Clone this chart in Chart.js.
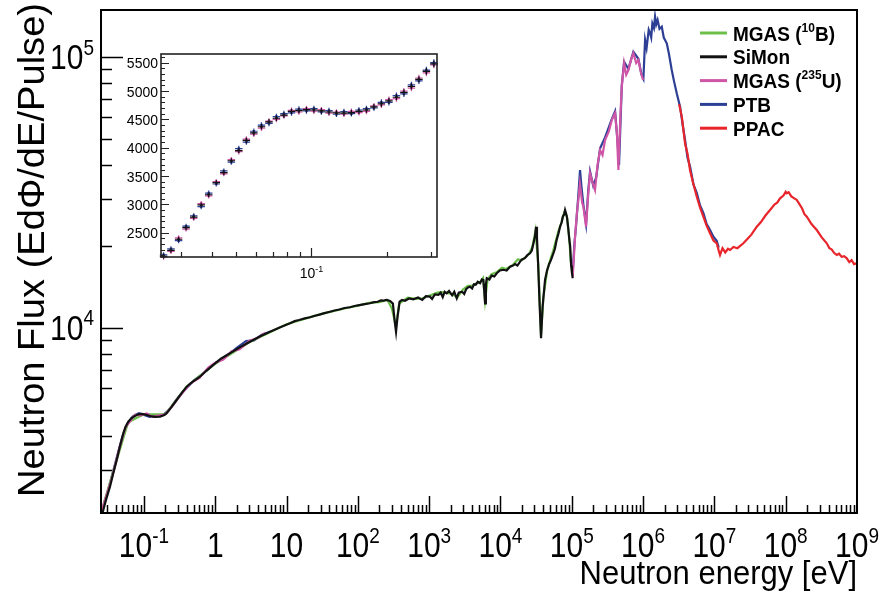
<!DOCTYPE html>
<html>
<head>
<meta charset="utf-8">
<script src="https://cdn.jsdelivr.net/npm/chart.js@4.4.0/dist/chart.umd.min.js"></script>
<style>
  html, body { margin: 0; padding: 0; background: #fff; }
  #wrap { position: relative; width: 883px; height: 592px; }
  #main { position: absolute; left: 0; top: 0; }
  #inset { position: absolute; left: 110px; top: 44px; }
</style>
</head>
<body>
<div id="wrap">
  <canvas id="main" width="883" height="592"></canvas>
  <canvas id="inset" width="340" height="250"></canvas>
</div>
<script>
// ---- data ----
const seriesNames = ['MGAS (¹⁰B)', 'SiMon', 'MGAS (²³⁵U)', 'PTB', 'PPAC'];
const xTitle = 'Neutron energy [eV]';
const yTitle = 'Neutron Flux (EdΦ/dE/Pulse)';

const mgasBE = [0.025, 0.04, 0.06, 0.1, 0.2, 0.4, 1, 3, 10, 30, 70, 100, 150, 200, 260, 300, 343, 380, 500, 650, 800, 1000, 1300, 1500, 2000, 2500, 3000, 3500, 4000, 5200, 5700, 6081, 6600, 7500, 9000, 10500, 12000, 15000, 17500, 20000, 25000, 28000, 31000, 34000, 37000, 40000, 45000, 50000, 55000, 65000, 72000, 78000, 85000, 92000, 97000];
const mgasBFlux = [2085, 3150, 4490, 4800, 4810, 6100, 7380, 8850, 10320, 11250, 11850, 12100, 12400, 12450, 12700, 11800, 10100, 12300, 12950, 12800, 12850, 13150, 13500, 13550, 13400, 13000, 13900, 14300, 14350, 14800, 15300, 12600, 15100, 15800, 16100, 16700, 16500, 17100, 17900, 17800, 18700, 19900, 22800, 17000, 9400, 13000, 16200, 17900, 19300, 22800, 24600, 26600, 26000, 21600, 17500];

const simonE = [0.025, 0.0264, 0.0295, 0.0334, 0.037, 0.0415, 0.046, 0.0514, 0.0555, 0.0604, 0.067, 0.075, 0.083, 0.0931, 0.105, 0.1216, 0.14, 0.168, 0.19, 0.2085, 0.24, 0.288, 0.34, 0.398, 0.48, 0.611, 0.75, 0.939, 1.2, 1.61, 2.2, 3.07, 4.2, 5.86, 8,
  11.2, 13, 15, 18, 21.3, 25, 29, 34, 40.7, 47, 55, 65, 77.6, 90, 105, 125, 148, 170, 190, 210, 228, 250, 283, 310, 330, 343, 360, 385, 417, 460, 520, 600, 700, 800, 900,
  1028, 1100, 1200, 1350, 1450, 1550, 1650, 1762, 1900, 2100, 2250, 2438, 2600, 2900, 3100, 3300, 3500, 3742, 4000, 4250, 4500, 4800, 5176, 5500, 5754, 5950, 6081, 6250, 6427, 7000, 7500, 8200, 8872, 9800,
  11000, 12200, 13620, 15000, 16000, 17300, 18830, 20000, 22000, 24000, 26000, 27500, 29000, 30500, 31550, 32500, 33500, 35500, 37070, 39000, 42170, 45000, 48000, 51000, 55200, 58000, 61000, 65000, 68500, 72000, 75000, 78000, 80500, 83000, 86000, 89000, 92500, 95000, 98000, 100500, 103200];
const simonFlux = [2080, 2090, 2330, 2597, 2900, 3258, 3650, 4087, 4330, 4510, 4650, 4735, 4800, 4818, 4790, 4735, 4700, 4707, 4760, 4845, 5080, 5424, 5760, 6073, 6330, 6609, 6950, 7304, 7700, 8066, 8480, 8901, 9300, 9690, 10050,
  10410, 10600, 10700, 10850, 10950, 11100, 11200, 11350, 11484, 11600, 11700, 11850, 11925, 12050, 12150, 12250, 12335, 12450, 12500, 12650, 12610, 12700, 12580, 12300, 10500, 9690, 11000, 12500, 12700, 12600, 12850, 12750, 12950, 12700, 13100,
  13050, 12800, 13300, 13250, 13500, 13000, 13600, 13430, 13700, 13200, 13600, 12870, 13500, 13600, 13350, 13900, 14100, 14200, 14000, 14500, 14450, 14800, 14620, 15100, 15030, 13500, 12335, 14500, 15260, 15100, 15600, 15500, 15920, 16300,
  16400, 16300, 16840, 17000, 17200, 17000, 17570, 17900, 18100, 18600, 18860, 19300, 20500, 21800, 23640, 21500, 18000, 12000, 9162, 12000, 15040, 16300, 17200, 17800, 18860, 19600, 21000, 22300, 23640, 24500, 25800, 26200, 27250, 26500, 25500, 23500, 21120, 20000, 17000, 16000, 15260];

const mgasUE = [0.025, 0.03, 0.036, 0.045, 0.055, 0.065, 0.075, 0.09, 0.11, 0.13, 0.16, 0.2, 0.25, 0.3, 0.45, 0.6, 0.8, 1, 1.3, 1.7, 2.2, 3, 4, 5, 50, 1.03e5, 1.08e5, 1.112e5, 1.18e5, 1.237e5, 1.3e5, 1.4e5, 1.455e5, 1.586e5, 1.7e5, 1.804e5, 1.95e5, 2.119e5, 2.3e5, 2.494e5, 2.7e5, 2.931e5, 3.3e5, 3.64e5, 4.05e5, 4.3e5, 4.507e5, 4.8e5, 5.027e5, 5.415e5, 5.8e5, 6.223e5, 6.8e5, 7.313e5, 8e5, 8.59e5, 9.3e5, 1e6];
const mgasUFlux = [2080, 2420, 2830, 3580, 4300, 4550, 4790, 4760, 4840, 4700, 4750, 4800, 5150, 5500, 6250, 6540, 7150, 7450, 7650, 8200, 8350, 8950, 9200, 9600, null, 15500, 19000, 21730, 26500, 29680, 34000, 29000, 28030, 23640, 31000, 37220, 34500, 32310, 40000, 45370, 43500, 49400, 53000, 58560, 62000, 52000, 38280, 60000, 77700, 94800, 86000, 89540, 98000, 103200, 95000, 97500, 88000, 82270];

const ptbE = [0.025, 0.031, 0.04, 0.05, 0.06, 0.07, 0.085, 0.1, 0.12, 0.15, 0.19, 0.23, 0.28, 0.35, 0.5, 0.7, 1, 1.5, 2, 2.7, 3.5, 4.5, 6, 50, 1.03e5, 1.09e5, 1.15e5, 1.237e5, 1.306e5, 1.37e5, 1.455e5, 1.586e5, 1.7e5, 1.804e5, 2e5, 2.2e5, 2.494e5, 2.931e5, 3.64e5, 4.049e5, 4.4e5, 4.6e5, 5.027e5, 5.415e5, 6.223e5, 7.313e5, 8.59e5, 9.5e5, 1.01e6, 1.067e6, 1.12e6, 1.2e6, 1.254e6, 1.3e6, 1.35e6, 1.42e6, 1.473e6, 1.53e6, 1.6e6, 1.7e6, 1.829e6, 1.95e6, 2.148e6, 2.3e6, 2.523e6, 2.7e6, 2.965e6, 3.3e6, 3.6e6, 3.875e6, 4.2e6, 4.55e6, 5.1e6, 5.66e6, 6.3e6, 7e6, 7.8e6, 8.69e6, 9.7e6, 1.079e7, 1.15e7];
const ptbFlux = [2075, 2480, 3200, 3980, 4480, 4720, 4850, 4780, 4700, 4740, 4790, 5020, 5400, 5800, 6400, 6850, 7420, 7950, 8450, 8950, 9000, 9450, 9700, null, 16000, 20500, 24000, 31000, 38280, 33000, 28500, 24200, 32000, 37800, 33500, 36000, 46000, 50500, 59000, 63000, 48000, 40000, 78500, 96000, 90500, 104500, 98500, 86000, 83000, 115600, 108000, 126000, 122300, 118000, 133000, 128000, 141000, 132000, 137000, 127000, 129300, 118000, 112400, 103000, 89540, 82000, 73450, 65550, 56000, 49500, 42500, 39500, 33800, 31500, 28300, 26600, 24200, 23000, 21700, 21000, 19800];

const ppacE = [3.2e6, 3.5e6, 3.875e6, 4.2e6, 4.55e6, 5e6, 5.66e6, 6.3e6, 7e6, 7.8e6, 8.69e6, 9.7e6, 1.079e7, 1.15e7, 1.2e7, 1.3e7, 1.42e7, 1.55e7, 1.66e7, 1.85e7, 2.1e7, 2.55e7, 2.9e7, 3.3e7, 3.93e7, 4.5e7, 5.2e7, 6.04e7, 7e7, 7.6e7, 8.34e7, 9.3e7, 1e8, 1.035e8, 1.1e8, 1.2e8, 1.32e8, 1.43e8, 1.55e8, 1.7e8, 1.83e8, 1.98e8, 2.3e8, 2.5e8, 2.73e8, 3.2e8, 3.77e8, 4.1e8, 4.4e8, 4.8e8, 5.2e8, 5.6e8, 6.1e8, 6.6e8, 7.19e8, 7.8e8, 8.4e8, 9.1e8, 9.93e8];
const ppacFlux = [67000, 60000, 48030, 44000, 38280, 34500, 30520, 27800, 25750, 23800, 22360, 21000, 20540, 19300, 18600, 19700, 19000, 19600, 19400, 19900, 19700, 20540, 21300, 22100, 23640, 24600, 26000, 27250, 28600, 29000, 30100, 30800, 31800, 31410, 31700, 30600, 30100, 29680, 28700, 27600, 26300, 25750, 24200, 23600, 22990, 21600, 20540, 19700, 19500, 18900, 18600, 18800, 18300, 18400, 18080, 17500, 17800, 17200, 17330];

const xTickValues = [0.1, 1, 10, 1e2, 1e3, 1e4, 1e5, 1e6, 1e7, 1e8, 1e9];
const xTickLabels = ['10⁻¹', '1', '10', '10²', '10³', '10⁴', '10⁵', '10⁶', '10⁷', '10⁸', '10⁹'];
const yTickValues = [1e4, 1e5];
const yTickLabels = ['10⁴', '10⁵'];

// inset (thermal region, linear flux axis)
const insetE = [0.0256, 0.0274, 0.0294, 0.0315, 0.0338, 0.0362, 0.0388, 0.0416, 0.0446, 0.0478, 0.0512, 0.0549, 0.0588, 0.0631, 0.0676, 0.0724, 0.0776, 0.0832, 0.0891, 0.0955, 0.1023, 0.1096, 0.1175, 0.1259, 0.1349, 0.1445, 0.1549, 0.166, 0.1778, 0.1905, 0.2042, 0.2188, 0.2344, 0.2512, 0.2692, 0.2884, 0.309];
const insetSimon = [2085, 2190, 2385, 2590, 2775, 2990, 3170, 3385, 3560, 3770, 3950, 4130, 4260, 4370, 4455, 4520, 4575, 4640, 4655, 4670, 4665, 4650, 4630, 4615, 4610, 4620, 4640, 4665, 4720, 4775, 4825, 4890, 4975, 5080, 5205, 5345, 5480];
const insetPtb = [2110, 2215, 2360, 2615, 2800, 2960, 3200, 3360, 3590, 3745, 3985, 4100, 4290, 4400, 4430, 4550, 4600, 4615, 4680, 4650, 4690, 4630, 4655, 4590, 4635, 4600, 4665, 4690, 4700, 4800, 4800, 4920, 4950, 5110, 5180, 5370, 5500];
const insetMgasU = [2070, 2170, 2410, 2565, 2755, 3015, 3150, 3400, 3540, 3790, 3930, 4150, 4240, 4345, 4470, 4500, 4560, 4660, 4630, 4690, 4645, 4670, 4610, 4630, 4590, 4640, 4620, 4640, 4740, 4755, 4850, 4865, 5000, 5050, 5230, 5320, 5460];
const insetErr = [45, 45, 45, 45, 45, 45, 45, 45, 45, 45, 50, 50, 50, 50, 50, 50, 50, 50, 50, 50, 50, 50, 50, 50, 50, 50, 50, 50, 50, 55, 55, 55, 55, 55, 55, 60, 60];
const insetYTicks = [2500, 3000, 3500, 4000, 4500, 5000, 5500];
const insetXTicks = [0.1];
const insetXLabels = ['10⁻¹'];

// ---- helpers ----
const FONT = '"Liberation Sans", Arial, Helvetica, sans-serif';
const SUP = { '⁰': '0', '¹': '1', '²': '2', '³': '3', '⁴': '4', '⁵': '5', '⁶': '6', '⁷': '7', '⁸': '8', '⁹': '9', '⁻': '-' };

function toPoints(xs, ys) {
  return xs.map((x, i) => ({ x: x, y: ys[i] }));
}

// text with superscript runs; y is the baseline, sy stretches it vertically
function drawRich(ctx, text, x, y, size, align, weight, sy) {
  weight = weight || 'normal';
  const runs = [];
  for (const ch of text) {
    const sup = ch in SUP;
    const c = sup ? SUP[ch] : ch;
    if (runs.length && runs[runs.length - 1].sup === sup) runs[runs.length - 1].t += c;
    else runs.push({ t: c, sup: sup });
  }
  const fN = weight + ' ' + size + 'px ' + FONT;
  const fS = weight + ' ' + Math.round(size * 0.62) + 'px ' + FONT;
  let w = 0;
  runs.forEach(r => { ctx.font = r.sup ? fS : fN; r.w = ctx.measureText(r.t).width; w += r.w; });
  let cx = align === 'center' ? x - w / 2 : align === 'right' ? x - w : x;
  ctx.save();
  ctx.fillStyle = '#000';
  ctx.textAlign = 'left';
  ctx.textBaseline = 'alphabetic';
  ctx.translate(0, y);
  ctx.scale(1, sy || 1);
  runs.forEach(r => {
    ctx.font = r.sup ? fS : fN;
    ctx.fillText(r.t, cx, r.sup ? -size * 0.42 : 0);
    cx += r.w;
  });
  ctx.restore();
}

// ---- main chart ----
const mainDecor = {
  id: 'mainDecor',
  afterDraw(chart) {
    const { ctx, chartArea: a, scales: { x, y } } = chart;
    ctx.save();
    ctx.strokeStyle = '#000';
    ctx.lineWidth = 1.5;
    ctx.beginPath();
    for (let d = -2; d <= 9; d++) {
      for (let m = 1; m <= 9; m++) {
        const v = m * Math.pow(10, d);
        if (v <= x.min || v >= x.max) continue;
        const px = Math.round(x.getPixelForValue(v)) + 0.5;
        const len = m === 1 ? 17 : 8;
        ctx.moveTo(px, a.bottom);
        ctx.lineTo(px, a.bottom - len);
      }
    }
    for (let d = 3; d <= 5; d++) {
      for (let m = 1; m <= 9; m++) {
        const v = m * Math.pow(10, d);
        if (v <= y.min || v >= y.max) continue;
        const py = Math.round(y.getPixelForValue(v)) + 0.5;
        const len = m === 1 ? 22 : 11;
        ctx.moveTo(a.left, py);
        ctx.lineTo(a.left + len, py);
      }
    }
    ctx.stroke();
    ctx.lineWidth = 2;
    ctx.strokeRect(a.left, a.top, a.right - a.left, a.bottom - a.top);

    xTickValues.forEach((v, i) => drawRich(ctx, xTickLabels[i], x.getPixelForValue(v), 557, 30, 'center', 'normal', 1.15));
    yTickValues.forEach((v, i) => drawRich(ctx, yTickLabels[i], 94, y.getPixelForValue(v) + 12, 30, 'right', 'normal', 1.15));

    // axis titles
    drawRich(ctx, xTitle, a.right, 584, 31, 'right', 'normal', 1.08);
    ctx.save();
    ctx.font = '36px ' + FONT;
    const tw = ctx.measureText(yTitle).width;
    ctx.translate(44, 497);
    ctx.rotate(-Math.PI / 2);
    ctx.scale(494 / tw, 1);
    ctx.fillStyle = '#000';
    ctx.textAlign = 'left';
    ctx.textBaseline = 'alphabetic';
    ctx.fillText(yTitle, 0, 0);
    ctx.restore();

    // legend
    chart.data.datasets.forEach((ds, i) => {
      const cy = 33 + i * 23.8;
      ctx.strokeStyle = ds.borderColor;
      ctx.lineWidth = 3;
      ctx.beginPath();
      ctx.moveTo(700, cy);
      ctx.lineTo(727, cy);
      ctx.stroke();
      drawRich(ctx, ds.label, 733, cy + 7.5, 19, 'left', 'bold', 1.1);
    });
    ctx.restore();
  }
};

const mainDatasets = [
  { label: seriesNames[0], data: toPoints(mgasBE, mgasBFlux), borderColor: '#6cc04a', order: 3 },
  { label: seriesNames[1], data: toPoints(simonE, simonFlux), borderColor: '#111111', order: 0 },
  { label: seriesNames[2], data: toPoints(mgasUE, mgasUFlux), borderColor: '#cf55a6', order: 1 },
  { label: seriesNames[3], data: toPoints(ptbE, ptbFlux), borderColor: '#2c3f95', order: 4 },
  { label: seriesNames[4], data: toPoints(ppacE, ppacFlux), borderColor: '#e8252b', order: 2 }
].map(d => Object.assign(d, { showLine: true, pointRadius: 0, borderWidth: 2.2, fill: false, spanGaps: false, tension: 0 }));

new Chart(document.getElementById('main'), {
  type: 'scatter',
  data: { datasets: mainDatasets },
  options: {
    responsive: false,
    animation: false,
    layout: { padding: { top: 10, right: 26, left: 0, bottom: 0 } },
    plugins: { legend: { display: false }, tooltip: { enabled: false } },
    scales: {
      x: {
        type: 'logarithmic', min: 0.025, max: 1e9,
        grid: { display: false, drawTicks: false },
        border: { display: false },
        ticks: { display: false },
        afterBuildTicks: s => { s.ticks = xTickValues.map(v => ({ value: v })); },
        afterFit: s => { s.height = 79; },
        title: { display: false, text: xTitle }
      },
      y: {
        type: 'logarithmic', min: 2076, max: 149100,
        grid: { display: false, drawTicks: false },
        border: { display: false },
        ticks: { display: false },
        afterBuildTicks: s => { s.ticks = yTickValues.map(v => ({ value: v })); },
        afterFit: s => { s.width = 101; },
        title: { display: false, text: yTitle }
      }
    }
  },
  plugins: [mainDecor]
});

// ---- inset chart ----
const insetDecor = {
  id: 'insetDecor',
  afterDatasetsDraw(chart) {
    const { ctx, scales: { x, y } } = chart;
    ctx.save();
    ctx.lineWidth = 1.2;
    chart.data.datasets.slice().reverse().forEach(ds => {
      ctx.strokeStyle = ds.borderColor;
      ctx.beginPath();
      ds.data.forEach((p, i) => {
        const px = x.getPixelForValue(p.x);
        const top = y.getPixelForValue(p.y + insetErr[i]);
        const bot = y.getPixelForValue(p.y - insetErr[i]);
        const py = y.getPixelForValue(p.y);
        ctx.moveTo(px, top); ctx.lineTo(px, bot);
        ctx.moveTo(x.getPixelForValue(p.x / 1.035), py); ctx.lineTo(x.getPixelForValue(p.x * 1.035), py);
      });
      ctx.stroke();
    });
    ctx.restore();
  },
  afterDraw(chart) {
    const { ctx, chartArea: a, scales: { x, y } } = chart;
    ctx.save();
    ctx.strokeStyle = '#222';
    ctx.lineWidth = 1.2;
    ctx.beginPath();
    for (let v = 2100; v <= 5600; v += 100) {
      const py = Math.round(y.getPixelForValue(v)) + 0.5;
      const len = v % 500 === 0 ? 8 : 4;
      ctx.moveTo(a.left, py); ctx.lineTo(a.left + len, py);
    }
    for (let d = -2; d <= 0; d++) {
      for (let m = 1; m <= 9; m++) {
        const v = m * Math.pow(10, d);
        if (v <= x.min || v >= x.max) continue;
        const px = Math.round(x.getPixelForValue(v)) + 0.5;
        const len = m === 1 ? 9 : 5;
        ctx.moveTo(px, a.bottom); ctx.lineTo(px, a.bottom - len);
      }
    }
    ctx.stroke();
    ctx.lineWidth = 1.6;
    ctx.strokeRect(a.left, a.top, a.right - a.left, a.bottom - a.top);
    insetYTicks.forEach(v => drawRich(ctx, String(v), a.left - 3, y.getPixelForValue(v) + 5.5, 14, 'right', 'normal', 1.1));
    insetXTicks.forEach((v, i) => drawRich(ctx, insetXLabels[i], x.getPixelForValue(v), a.bottom + 21, 14, 'center', 'normal', 1.1));
    ctx.restore();
  }
};

const insetDatasets = [
  { label: seriesNames[1], data: toPoints(insetE, insetSimon), borderColor: '#111111', backgroundColor: '#111111' },
  { label: seriesNames[3], data: toPoints(insetE, insetPtb), borderColor: '#2c3f95', backgroundColor: '#2c3f95' },
  { label: seriesNames[2], data: toPoints(insetE, insetMgasU), borderColor: '#cf55a6', backgroundColor: '#cf55a6' }
].map(d => Object.assign(d, { showLine: false, pointStyle: 'rect', pointRadius: 1.8, borderWidth: 0 }));

new Chart(document.getElementById('inset'), {
  type: 'scatter',
  data: { datasets: insetDatasets },
  options: {
    responsive: false,
    animation: false,
    layout: { padding: { top: 10, right: 13, left: 0, bottom: 0 } },
    plugins: { legend: { display: false }, tooltip: { enabled: false } },
    scales: {
      x: {
        type: 'logarithmic', min: 0.025, max: 0.318,
        grid: { display: false, drawTicks: false },
        border: { display: false },
        ticks: { display: false },
        afterBuildTicks: s => { s.ticks = insetXTicks.map(v => ({ value: v })); },
        afterFit: s => { s.height = 37; }
      },
      y: {
        type: 'linear', min: 2072, max: 5653,
        grid: { display: false, drawTicks: false },
        border: { display: false },
        ticks: { display: false },
        afterBuildTicks: s => { s.ticks = insetYTicks.map(v => ({ value: v })); },
        afterFit: s => { s.width = 51; }
      }
    }
  },
  plugins: [insetDecor]
});
</script>
</body>
</html>
